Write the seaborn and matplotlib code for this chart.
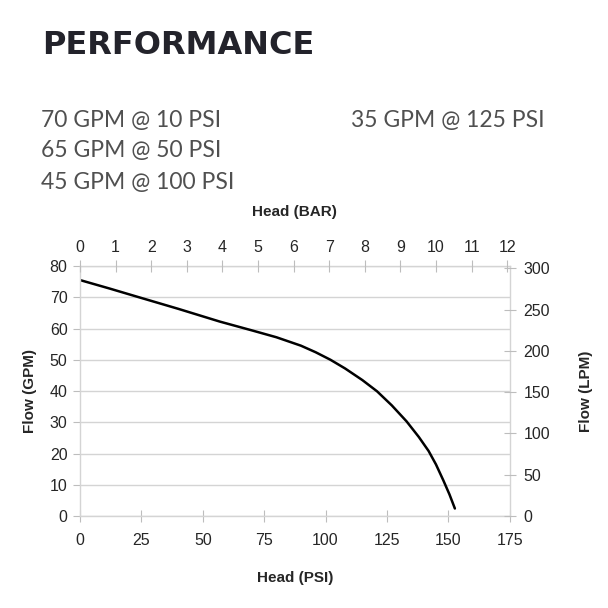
import numpy as np
import pandas as pd
import matplotlib
matplotlib.use("Agg")
import matplotlib.pyplot as plt
import seaborn as sns

# pump curve
head_psi = [0, 12, 24, 40, 57, 70, 80, 90, 96, 102, 108, 115, 121, 127, 133, 138, 142, 145, 148, 150.5, 152.7]
flow_gpm = [75.5, 72.8, 70.0, 66.3, 62.2, 59.4, 57.2, 54.5, 52.4, 50.0, 47.2, 43.5, 39.9, 35.4, 30.3, 25.3, 20.8, 16.5, 11.4, 6.9, 2.4]

specs_left = ["70 GPM @ 10 PSI", "65 GPM @ 50 PSI", "45 GPM @ 100 PSI"]
specs_right = ["35 GPM @ 125 PSI"]

psi_ticks = [0, 25, 50, 75, 100, 125, 150, 175]
gpm_ticks = [0, 10, 20, 30, 40, 50, 60, 70, 80]
bar_ticks = list(range(0, 13))
lpm_ticks = [0, 50, 100, 150, 200, 250, 300]

PSI_PER_BAR = 14.5038
LPM_PER_GPM = 3.78541

df = pd.DataFrame({"psi": head_psi, "gpm": flow_gpm})

sns.set_style("white")
plt.rcParams["font.family"] = ["Liberation Sans", "DejaVu Sans"]

fig = plt.figure(figsize=(6.08, 6.08), dpi=100)
ax = fig.add_axes([0.1316, 0.1513, 0.7066, 0.4112])

sns.lineplot(data=df, x="psi", y="gpm", sort=False, color="black", linewidth=1.8, ax=ax)
ax.lines[0].set_solid_joinstyle("round")

grid_c = "#d4d4d4"
tick_c = "#bdbdbd"
fs = 11.5
ax.set_xlim(0, 175)
ax.set_ylim(0, 80)
ax.set_xticks(psi_ticks)
ax.set_yticks(gpm_ticks)
ax.yaxis.grid(True, color=grid_c, linewidth=1)
ax.xaxis.grid(False)
for s in ax.spines.values():
    s.set_color(grid_c)
    s.set_linewidth(1)
ax.tick_params(axis="x", direction="inout", length=8, color=tick_c, labelsize=fs, pad=8, bottom=True)
ax.tick_params(axis="y", direction="out", length=5, color=tick_c, labelsize=fs, pad=4, left=True)
ax.set_xlabel("Head (PSI)", fontsize=11, fontweight="bold", labelpad=17)
ax.set_ylabel("Flow (GPM)", fontsize=11, fontweight="bold", labelpad=9)

# top axis in bar
ax_top = ax.twiny()
ax_top.set_xlim(0, 175 / PSI_PER_BAR)
ax_top.set_xticks(bar_ticks)
ax_top.tick_params(axis="x", direction="inout", length=8, color=tick_c, labelsize=fs, pad=4)
ax_top.set_xlabel("Head (BAR)", fontsize=11, fontweight="bold", labelpad=17)
for s in ax_top.spines.values():
    s.set_visible(False)

# right axis in lpm
ax_r = ax.twinx()
ax_r.set_ylim(0, 80 * LPM_PER_GPM)
ax_r.set_yticks(lpm_ticks)
ax_r.tick_params(axis="y", direction="inout", length=8, color=tick_c, labelsize=fs, pad=6, right=True)
ax_r.set_ylabel("Flow (LPM)", fontsize=11, fontweight="bold", labelpad=21)
for s in ax_r.spines.values():
    s.set_visible(False)

fig.text(42 / 608, 1 - 46 / 608, "PERFORMANCE", fontsize=23, fontweight="heavy",
         color="#23232b", va="center", ha="left", family=["DejaVu Sans"])
for i, t in enumerate(specs_left):
    fig.text(41 / 608, 1 - (120 + 31 * i) / 608, t, fontsize=16.5, fontweight="normal",
             color="#505050", va="center", ha="left", family=["Lato", "DejaVu Sans"])
for i, t in enumerate(specs_right):
    fig.text(351 / 608, 1 - (120 + 31 * i) / 608, t, fontsize=16.5, fontweight="normal",
             color="#505050", va="center", ha="left", family=["Lato", "DejaVu Sans"])

fig.savefig("out.png", dpi=100, facecolor="white")
